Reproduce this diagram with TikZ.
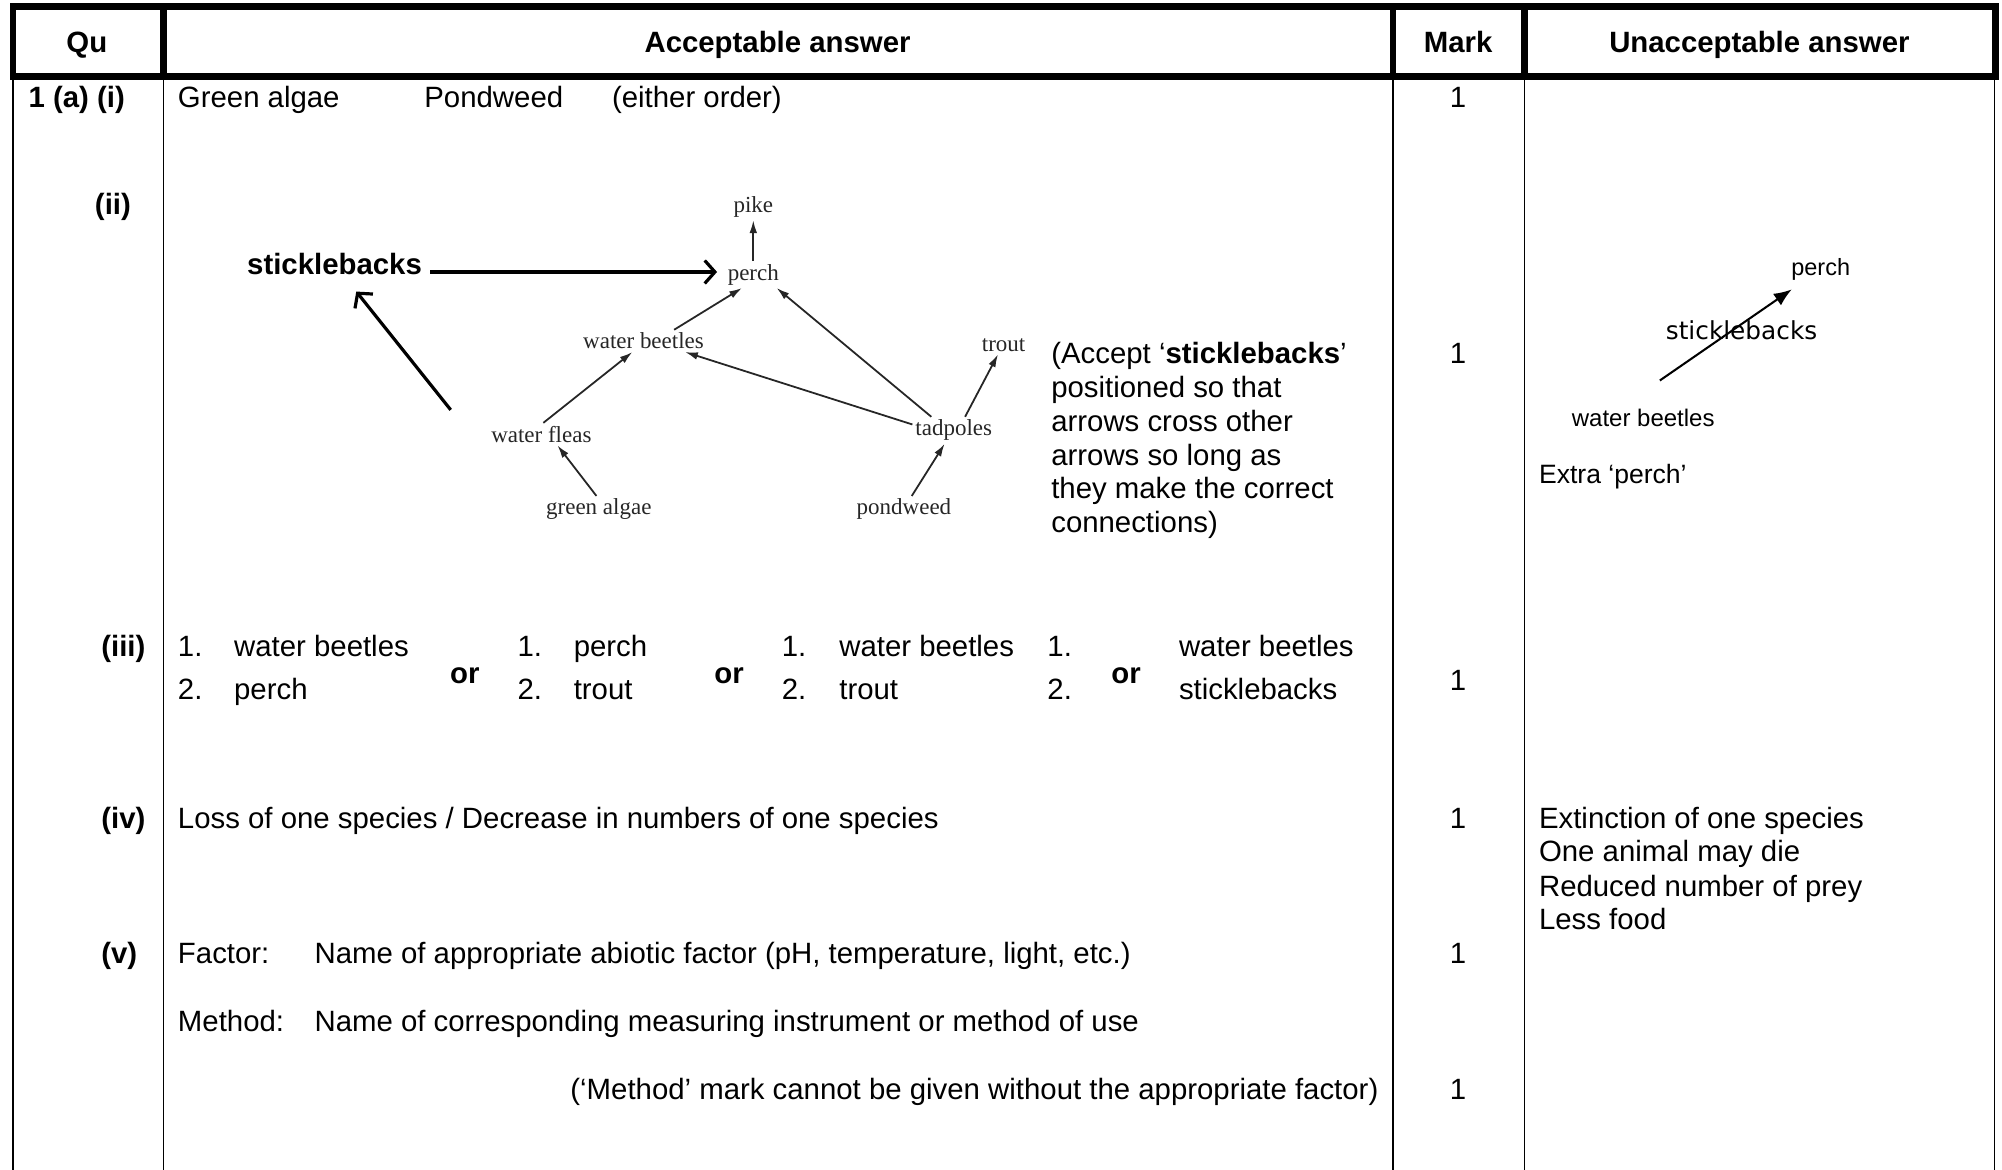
\documentclass[tikz,border=0pt]{standalone}
\usepackage{fontspec}
\setmainfont{Liberation Sans}
\newfontfamily\webfont{Liberation Serif}
\newfontfamily\handfont{DejaVu Sans}
\usetikzlibrary{positioning,arrows.meta}

\begin{document}
\begin{tikzpicture}[x=0.5pt,y=-0.5pt,
  font=\fontsize{11.5}{13.2}\selectfont,
  txt/.style={anchor=base west,inner sep=0pt},
  hd/.style={anchor=base,inner sep=0pt,font=\fontsize{11.5}{13.2}\selectfont\bfseries},
  ql/.style={txt,font=\fontsize{11.5}{13.2}\selectfont\bfseries},
  mk/.style={anchor=base,inner sep=0pt},
  web/.style={inner sep=1pt,text=black!85,font=\webfont\fontsize{9}{10}\selectfont},
  warr/.style={-{Latex[length=5pt,width=3pt]},black!85,line width=0.7pt},
  bigarr/.style={-{Straight Barb[length=4pt,width=9pt]},line width=1.25pt},
  gridline/.style={line width=0.65pt},
  headrule/.style={line width=2.5pt}]
  \useasboundingbox (0,0) rectangle (1568,916);

  % Table
  \foreach \cx in {10,128,1091,1194,1562}
    \draw[gridline] (\cx,60) -- (\cx,916);
  \draw[headrule] (10,5) rectangle (1563,60);
  \foreach \cx in {128,1091,1194}
    \draw[headrule] (\cx,5) -- (\cx,60);

  % Header
  \node[hd] (hqu) at (68,41) {Qu};
  \node[hd] (hacc) at (609,41) {Acceptable answer};
  \node[hd] (hmark) at (1142,41) {Mark};
  \node[hd] (hunacc) at (1378,41) {Unacceptable answer};

  % Question labels
  \node[ql] (qi) at (22,84) {1 (a) (i)};
  \node[ql] (qii) at (74,168) {(ii)};
  \node[ql] (qiii) at (79,514) {(iii)};
  \node[ql] (qiv) at (79,649) {(iv)};
  \node[ql] (qv) at (79,755) {(v)};

  % Marks
  \foreach \my in {84,285,541,649,755,861}
    \node[mk] (m\my) at (1142,\my) {1};

  % (i)
  \node[txt] (galg) at (139,84) {Green algae};
  \node[txt] (pweed) at (332,84) {Pondweed};
  \node[txt] (either) at (479,84) {(either order)};

  % (ii) food web
  \node[web] (pike) at (590,162) {pike};
  \node[web] (perch) at (590,215) {perch};
  \node[web] (wbeet) at (504,267) {water beetles};
  \node[web] (trout) at (786,270) {trout};
  \node[web] (wfleas) at (424,340) {water fleas};
  \node[web] (tad) at (747,337) {tadpoles};
  \node[web] (galgae) at (469,399) {green algae};
  \node[web] (pond) at (708,399) {pondweed};

  \draw[warr] (perch.north) -- (pike.south);
  \draw[warr] (wbeet.20) -- (perch.230);
  \draw[warr] (tad.149) -- (perch.330);
  \draw[warr] (tad.172) -- (wbeet.345);
  \draw[warr] (tad.50) -- (trout.240);
  \draw[warr] (wfleas.80) -- (wbeet.225);
  \draw[warr] (galgae.100) -- (wfleas.325);
  \draw[warr] (pond.60) -- (tad.236);

  % sticklebacks added
  \node[inner sep=0pt,font=\fontsize{11.5}{13.2}\selectfont\bfseries] (stick) at (262,207) {sticklebacks};
  \coordinate (fleatail) at (353,321);
  \draw[bigarr,shorten <=3pt,shorten >=3pt] ([yshift=-3pt]stick.east) -- ([yshift=-3pt]stick.east -| perch.west);
  \draw[bigarr,shorten >=8pt] (fleatail) -- (stick);

  \node[txt,anchor=north west,align=left] (accept) at (823,268)
    {(Accept ‘\textbf{sticklebacks}’\\positioned so that\\arrows cross other\\arrows so long as\\they make the correct\\connections)};

  % (ii) unacceptable
  \node[font=\fontsize{9.2}{11}\selectfont] (uperch) at (1426,211) {perch};
  \node[font=\handfont\fontsize{9.7}{11}\selectfont] (ustick) at (1364,259) {sticklebacks};
  \node[font=\fontsize{9.4}{11}\selectfont] (ubeet) at (1287,327) {water beetles};
  \coordinate (utail) at (1300,298);
  \draw[-{Latex[length=7pt,width=5.5pt]},line width=0.8pt] (utail) -- (uperch);
  \node[txt,font=\fontsize{10.4}{12}\selectfont] (uextra) at (1205,379) {Extra ‘perch’};

  % (iii)
  \foreach \nx/\wx/\wa/\wb in {139/183/water beetles/perch,405/449/perch/trout,
      612/657/water beetles/trout,820/923/water beetles/sticklebacks} {
    \node[txt] (na\nx) at (\nx,514) {1.};
    \node[txt] (wa\nx) at (\wx,514) {\wa};
    \node[txt] (nb\nx) at (\nx,548) {2.};
    \node[txt] (wb\nx) at (\wx,548) {\wb};
  }
  \foreach \ox in {364,571,882}
    \node[hd] (or\ox) at (\ox,535) {or};

  % (iv)
  \node[txt] (loss) at (139,649) {Loss of one species / Decrease in numbers of one species};
  \foreach \ly/\lt in {649/Extinction of one species,675/One animal may die,
      702/Reduced number of prey,728/Less food}
    \node[txt] (u\ly) at (1205,\ly) {\lt};

  % (v)
  \node[txt] (factor) at (139,755) {Factor:};
  \node[txt] (factxt) at (246,755) {Name of appropriate abiotic factor (pH, temperature, light, etc.)};
  \node[txt] (method) at (139,808) {Method:};
  \node[txt] (methtxt) at (246,808) {Name of corresponding measuring instrument or method of use};
  \node[txt,anchor=base east] (note) at (1080,861) {(‘Method’ mark cannot be given without the appropriate factor)};
\end{tikzpicture}
\end{document}
